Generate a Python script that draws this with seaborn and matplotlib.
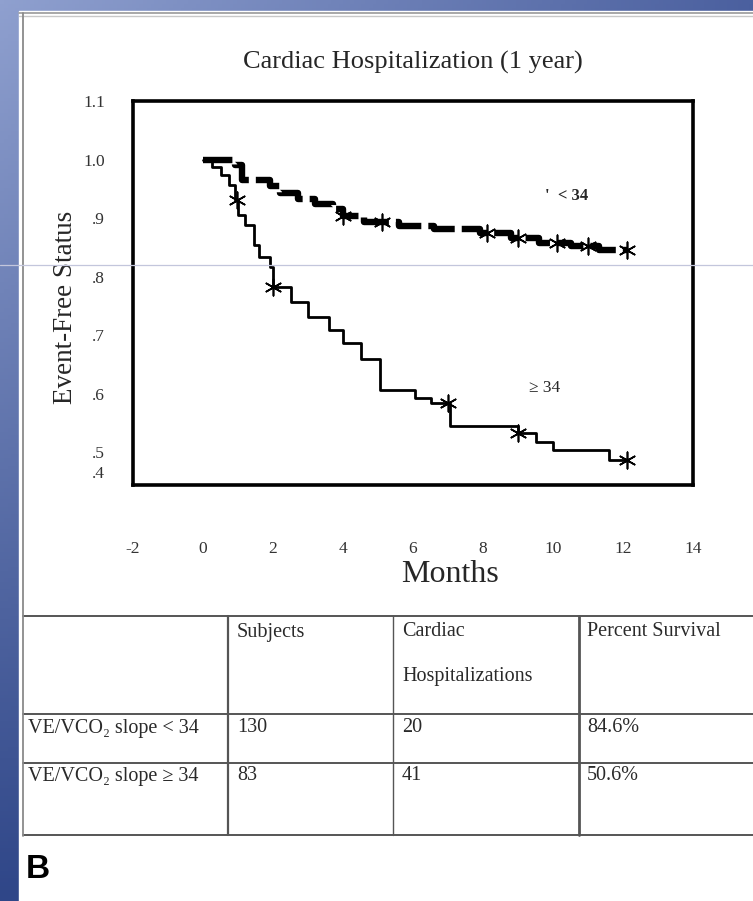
import numpy as np
import pandas as pd
import matplotlib
matplotlib.use("Agg")
import matplotlib.pyplot as plt
from matplotlib.lines import Line2D
from matplotlib.colors import to_rgb
import seaborn as sns

# Kaplan-Meier style step estimates: time (months) at which each level starts
low_slope_t = [0.0, 0.9, 1.1, 1.9, 2.2, 2.7, 3.2, 3.7, 4.0, 4.6, 5.6, 6.6, 7.9, 8.8, 9.6, 10.5, 11.3, 12.1]
low_slope_s = [1.000, 0.990, 0.965, 0.955, 0.942, 0.932, 0.924, 0.915, 0.903, 0.894, 0.887, 0.882,
               0.874, 0.866, 0.858, 0.852, 0.846, 0.846]
low_slope_censor = [4.0, 5.1, 8.1, 9.0, 10.1, 11.0, 12.1]

high_slope_t = [0.0, 0.25, 0.5, 0.75, 0.9, 1.0, 1.2, 1.45, 1.6, 1.9, 2.0, 2.5, 3.0, 3.6, 4.0, 4.5,
                5.05, 6.05, 6.5, 7.05, 9.0, 9.5, 10.0, 11.6, 12.1]
high_slope_s = [1.000, 0.987, 0.974, 0.956, 0.931, 0.905, 0.888, 0.854, 0.833, 0.816, 0.782, 0.756,
                0.731, 0.709, 0.686, 0.660, 0.607, 0.593, 0.584, 0.544, 0.532, 0.517, 0.503, 0.486, 0.486]
high_slope_censor = [0.97, 2.0, 7.0, 9.0, 12.1]

x_ticks = [-2, 0, 2, 4, 6, 8, 10, 12, 14]
y_ticks = [0.466, 0.5, 0.6, 0.7, 0.8, 0.9, 1.0, 1.1]
y_tick_labels = [".4", ".5", ".6", ".7", ".8", ".9", "1.0", "1.1"]

table_header = ["", "Subjects", "Cardiac\n\nHospitalizations", "Percent Survival"]
table_groups = ["VE/VCO\u2082 slope < 34", "VE/VCO\u2082 slope \u2265 34"]
table_subjects = ["130", "83"]
table_hosp = ["20", "41"]
table_survival = ["84.6%", "50.6%"]

W, H = 753, 901
sns.set_theme(style="white")
plt.rcParams["font.family"] = ["Liberation Serif", "DejaVu Serif"]

fig = plt.figure(figsize=(W / 100, H / 100), dpi=100)


def fx(px):
    return px / W


def fy(py):
    return 1 - py / H


# slide background gradient
bg = fig.add_axes([0, 0, 1, 1], zorder=-10)
bg.set_axis_off()
tl, tr, bl = np.array(to_rgb("#8fa0cf")), np.array(to_rgb("#4b609f")), np.array(to_rgb("#2f4688"))
gx = np.linspace(0, 1, 200)[None, :, None]
gy = np.linspace(0, 1, 240)[:, None, None]
grad = tl + (tr - tl) * gx * (1 - gy) + (bl - tl) * gy
grad = np.clip(grad, 0, 1)
bg.imshow(grad, extent=[0, 1, 0, 1], aspect="auto", origin="upper")
bg.add_patch(plt.Rectangle((fx(19), 0), 1, fy(11), color="white", zorder=2))
bg.set_xlim(0, 1)
bg.set_ylim(0, 1)

# panel borders and the stray guide line
for (x0, y0, x1, y1, c, lw) in [
    (19, 13, W, 13, "#9a9a9a", 1.2),
    (19, 15.5, W, 15.5, "#c8c8c8", 1.0),
    (23, 13, 23, 836, "#8a8a8a", 1.3),
    (0, 265, W, 265, "#c3c6dc", 0.9),
]:
    fig.add_artist(Line2D([fx(x0), fx(x1)], [fy(y0), fy(y1)], color=c, lw=lw, zorder=5))

# survival curves
ax = fig.add_axes([fx(133), fy(485), fx(693) - fx(133), (485 - 101) / H])
ax.set_facecolor("white")

low_df = pd.DataFrame({"month": low_slope_t, "survival": low_slope_s})
high_df = pd.DataFrame({"month": high_slope_t, "survival": high_slope_s})

sns.lineplot(data=low_df, x="month", y="survival", ax=ax, color="black", lw=4.6,
             drawstyle="steps-post", estimator=None, linestyle=(0, (4.6, 1.1)),
             solid_capstyle="butt", dash_capstyle="butt")
sns.lineplot(data=high_df, x="month", y="survival", ax=ax, color="black", lw=2.0,
             drawstyle="steps-post", estimator=None)


def step_value(times, surv, t):
    idx = np.searchsorted(times, t, side="right") - 1
    return surv[max(idx, 0)]


low_cens_df = pd.DataFrame({"month": low_slope_censor,
                            "survival": [step_value(low_slope_t, low_slope_s, t) for t in low_slope_censor]})
high_cens_df = pd.DataFrame({"month": high_slope_censor,
                             "survival": [step_value(high_slope_t, high_slope_s, t) for t in high_slope_censor]})
for d in (low_cens_df, high_cens_df):
    sns.scatterplot(data=d, x="month", y="survival", ax=ax, marker=(6, 2, 0), s=140,
                    color="black", linewidth=1.2, zorder=5)

ax.set_xlim(-2, 14)
ax.set_ylim(0.444, 1.1)
ax.set_xticks(x_ticks)
ax.set_xticklabels([str(v) for v in x_ticks])
ax.set_yticks(y_ticks)
ax.set_yticklabels(y_tick_labels)
ax.tick_params(axis="x", length=0, pad=40, labelsize=12.5, labelcolor="#333333")
ax.tick_params(axis="y", length=0, pad=20, labelsize=12.5, labelcolor="#333333")
for sp in ax.spines.values():
    sp.set_visible(True)
    sp.set_color("black")
    sp.set_linewidth(2.6)

ax.set_xlabel("Months", fontsize=23)
ax.xaxis.set_label_coords((450 - 133) / 560, (485 - 575) / 384)
ax.xaxis.label.set_va("center")
ax.set_ylabel("Event-Free Status", fontsize=19.5)
ax.yaxis.set_label_coords((65 - 133) / 560, (485 - 307) / 384)
ax.yaxis.label.set_va("center")
ax.text(0.5, (485 - 62) / 384, "Cardiac Hospitalization (1 year)", transform=ax.transAxes,
        ha="center", va="center", fontsize=19)

ax.text(10.4, 0.938, "'  < 34", ha="center", va="center", fontsize=12, fontweight="bold")
ax.text(9.77, 0.609, "\u2265 34", ha="center", va="center", fontsize=12.5)

# summary table
tcol = "#555555"
for py in (616, 714, 763, 835):
    fig.add_artist(Line2D([fx(23), fx(W)], [fy(py), fy(py)], color=tcol, lw=1.4))
for px, lw in ((228, 1.6), (393, 1.0), (579, 2.0)):
    fig.add_artist(Line2D([fx(px), fx(px)], [fy(616), fy(835)], color=tcol, lw=lw))

txt_kw = dict(fontsize=14.5, color="#2a2a2a", ha="left", va="center")
fig.text(fx(237), fy(632), table_header[1], **txt_kw)
fig.text(fx(402), fy(632), "Cardiac", **txt_kw)
fig.text(fx(402), fy(676), "Hospitalizations", **txt_kw)
fig.text(fx(587), fy(632), table_header[3], **txt_kw)
for i, py in enumerate((728, 776)):
    fig.text(fx(28), fy(py), table_groups[i], **txt_kw)
    fig.text(fx(237), fy(py), table_subjects[i], **txt_kw)
    fig.text(fx(402), fy(py), table_hosp[i], **txt_kw)
    fig.text(fx(587), fy(py), table_survival[i], **txt_kw)

fig.text(fx(26), fy(870), "B", fontsize=24, fontweight="bold", family="Liberation Sans",
         ha="left", va="center", color="black")

fig.savefig("out.png", dpi=100)
